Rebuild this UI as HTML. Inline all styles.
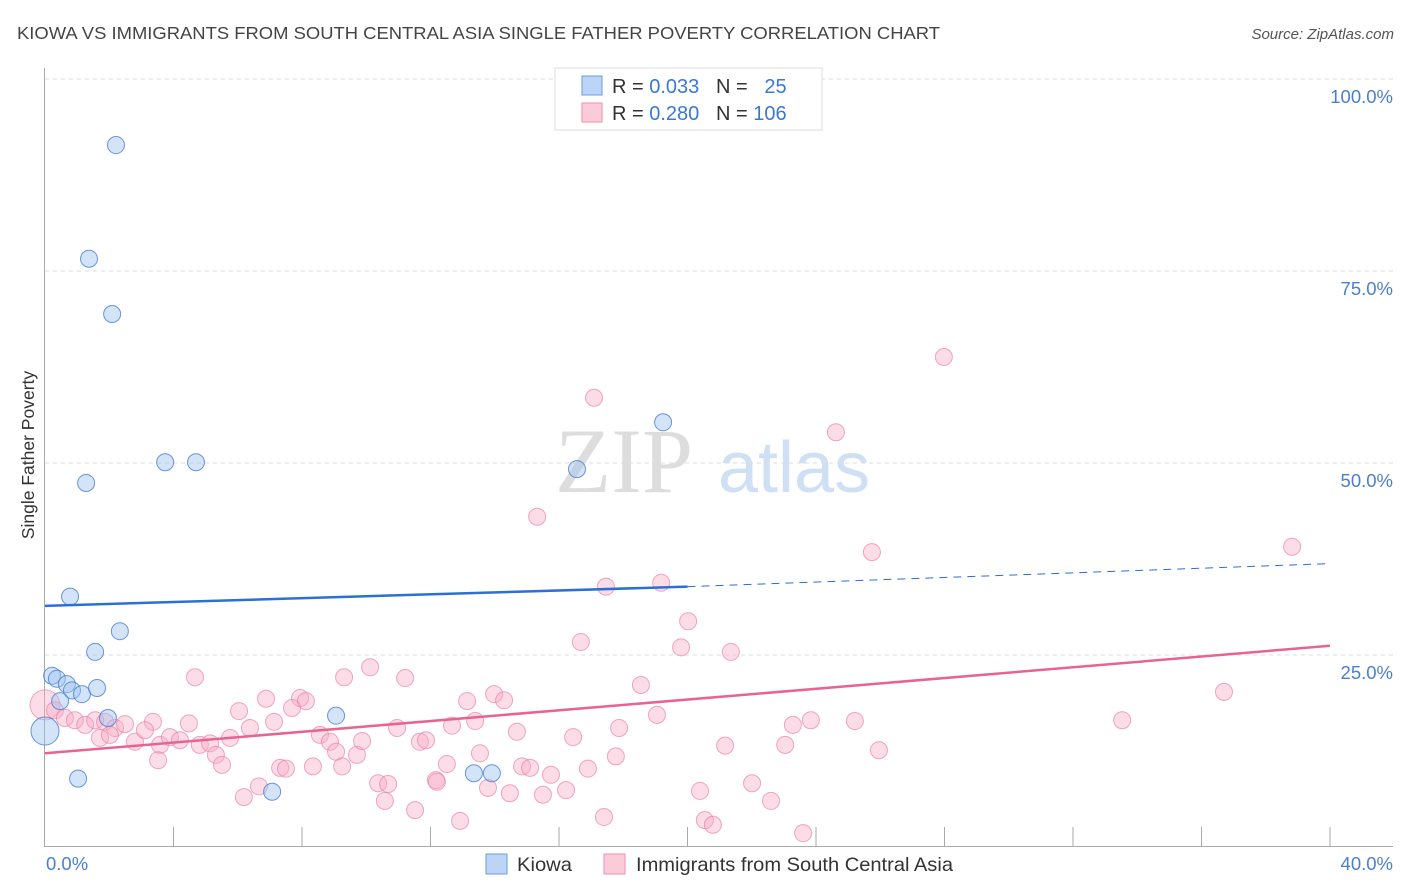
<!DOCTYPE html>
<html><head><meta charset="utf-8"><style>
body{margin:0;background:#fff;font-family:"Liberation Sans",sans-serif}
#wrap{position:relative;width:1406px;height:892px;overflow:hidden}
</style></head><body>
<div id="wrap">
<svg id="svg" width="1406" height="892" xmlns="http://www.w3.org/2000/svg">
<text x="17" y="39" font-size="17.5" fill="#444" textLength="923" lengthAdjust="spacingAndGlyphs">KIOWA VS IMMIGRANTS FROM SOUTH CENTRAL ASIA SINGLE FATHER POVERTY CORRELATION CHART</text>
<text x="1394" y="39" font-size="15" fill="#555" font-style="italic" text-anchor="end">Source: ZipAtlas.com</text>
<g>
<text x="555" y="492" font-size="92" fill="#ddd" font-family="Liberation Serif,serif">ZIP</text>
<text x="718" y="492" font-size="72" fill="#cfe0f4">atlas</text>
</g>
<g id="grid"></g>
<g id="axes"></g>
<g id="pts"></g>
<g id="lines"></g>
<text x="34" y="455" font-size="17.5" fill="#333" text-anchor="middle" transform="rotate(-90 34 455)">Single Father Poverty</text>
<g>
<rect x="555" y="68" width="267" height="62" fill="#fff" stroke="#ddd"/>
<rect x="582" y="76" width="20" height="19" fill="#bcd4f5" stroke="#6b9be0"/>
<rect x="582" y="103" width="20" height="19" fill="#fbcbd9" stroke="#ee8fab"/>
<text x="612" y="93" font-size="20" fill="#333">R = <tspan fill="#3a78d4">0.033</tspan>&#160;&#160;&#160;N = &#160;&#160;<tspan fill="#3a78d4">25</tspan></text>
<text x="612" y="120" font-size="20" fill="#333">R = <tspan fill="#3a78d4">0.280</tspan>&#160;&#160;&#160;N = <tspan fill="#3a78d4">106</tspan></text>
</g>
<g>
<rect x="486" y="854" width="21" height="20" fill="#bcd4f5" stroke="#6b9be0"/>
<text x="517" y="871" font-size="19.5" fill="#333" textLength="55" lengthAdjust="spacingAndGlyphs">Kiowa</text>
<rect x="604" y="854" width="21" height="20" fill="#fbcbd9" stroke="#ee8fab"/>
<text x="636" y="871" font-size="19.5" fill="#333" textLength="317" lengthAdjust="spacingAndGlyphs">Immigrants from South Central Asia</text>
</g>
</svg></div>
<script>
const yTicks=[100,75,50,25];
const yTickLabels=["100.0%","75.0%","50.0%","25.0%"];
const xEnds=["0.0%","40.0%"];
const kiowaX=[2.21,1.37,2.09,3.74,4.7,1.28,0.78,2.33,1.56,0.22,0.37,0.68,0.84,1.15,1.62,0.47,1.96,9.06,1.03,7.07,13.35,13.91,16.56,19.24,0];
const kiowaY=[91.4,76.6,69.4,50.1,50.1,47.4,32.6,28.1,25.4,22.3,21.9,21.2,20.4,19.9,20.7,19.0,16.8,17.1,8.9,7.2,9.6,9.6,49.2,55.3,15.1];
const immX=[27.98,17.09,24.62,15.32,25.74,38.82,17.46,19.18,20.02,16.68,19.8,21.35,4.67,9.31,10.12,11.21,18.55,36.7,6.88,7.94,8.12,13.98,13.14,14.29,6.04,7.69,19.05,33.53,25.21,23.84,23.28,3.36,4.48,7.13,10.96,12.67,13.39,17.87,0,0.31,0.62,0.93,1.25,1.56,1.87,2.18,2.49,2.8,3.11,3.58,3.89,4.2,4.82,5.14,5.76,6.38,5.32,5.51,8.56,8.87,9.06,9.71,9.87,9.25,11.67,11.86,14.69,16.44,13.54,14.85,15.75,16.9,17.77,21.17,23.04,25.96,6.19,6.66,7.32,7.5,8.34,10.37,10.68,10.58,11.52,12.17,12.51,12.92,13.79,14.47,15.5,16.22,17.4,20.39,20.54,20.79,22.01,22.6,23.6,12.2,15.1,3.52,1.71,2.02];
const immY=[63.8,58.5,54.0,43.0,38.4,39.1,33.9,34.4,29.4,26.7,26.0,25.4,22.1,22.1,23.4,22.0,21.1,20.2,19.3,19.4,19.0,19.9,19.0,19.1,17.7,18.1,17.2,16.5,16.4,16.5,15.9,16.3,16.1,16.3,15.5,15.8,16.4,15.5,18.5,17.8,16.8,16.5,15.9,16.5,16.3,15.5,16.0,13.7,15.2,13.3,14.3,13.9,13.3,13.5,14.2,15.5,12.0,10.7,14.6,13.7,12.4,12.0,13.8,10.5,13.7,13.9,15.0,14.3,12.2,10.5,9.4,10.2,11.8,13.2,13.3,12.6,6.5,7.9,10.3,10.2,10.5,8.3,8.2,6.0,4.8,8.7,10.8,3.4,7.7,7.0,6.8,7.4,3.9,7.3,3.5,2.9,8.3,6.0,1.8,8.5,10.3,11.3,14.2,14.6];
const kiowaTrend=[31.4,33.9,36.9];
const immTrend=[12.2,26.2];
const xs=v=>45+v*(1285/40);
const ys=v=>847-v*7.68;
const NS="http://www.w3.org/2000/svg";
function mk(tag,attrs,parent){const e=document.createElementNS(NS,tag);for(const k in attrs)e.setAttribute(k,attrs[k]);document.getElementById(parent).appendChild(e);return e;}
yTicks.forEach((t,i)=>{
 const g=mk('line',{x1:45,x2:1393,y1:ys(t),y2:ys(t),stroke:'#ddd','stroke-dasharray':'4,4'},'grid');
 
 
 const l=mk('text',{x:1393,y:ys(t)+24,'font-size':18.5,fill:'#4a7fd0','text-anchor':'end'},'axes');
 l.textContent=yTickLabels[i];
 
 
});
let a=mk('line',{x1:44.5,x2:44.5,y1:68,y2:847,stroke:'#aaa'},'axes');


a=mk('line',{x1:44,x2:1393,y1:846.5,y2:846.5,stroke:'#aaa'},'axes');


for(let i=1;i<=10;i++){
 const t=mk('line',{x1:xs(i*4),x2:xs(i*4),y1:827,y2:847,stroke:'#aaa'},'axes');
 
 
}
[[46,'start',0],[1393,'end',1]].forEach(([x,anc,i])=>{
 const t=mk('text',{x:x,y:870,'font-size':18.5,fill:'#4a7fd0','text-anchor':anc},'axes');
 t.textContent=xEnds[i];
 
 
});
immX.forEach((x,i)=>{
 const c=mk('circle',{cx:xs(x),cy:ys(immY[i]),r:(x===0?15:8.5),fill:'rgba(248,170,195,0.4)',stroke:'rgba(235,130,165,0.7)','stroke-width':1},'pts');
 
 
});
kiowaX.forEach((x,i)=>{
 const c=mk('circle',{cx:xs(x),cy:ys(kiowaY[i]),r:(x===0?14:8.5),fill:'rgba(160,195,240,0.45)',stroke:'rgba(70,125,210,0.8)','stroke-width':1},'pts');
 
 
});
let l=mk('line',{x1:xs(0),y1:ys(kiowaTrend[0]),x2:xs(20),y2:ys(kiowaTrend[1]),stroke:'#2c6fd6','stroke-width':2.5},'lines');


l=mk('line',{x1:xs(20),y1:ys(kiowaTrend[1]),x2:xs(40),y2:ys(kiowaTrend[2]),stroke:'#2c6fd6','stroke-width':1,'stroke-dasharray':'8,6'},'lines');


l=mk('line',{x1:xs(0),y1:ys(immTrend[0]),x2:xs(40),y2:ys(immTrend[1]),stroke:'#e8648f','stroke-width':2.5},'lines');


</script>
</body></html>
